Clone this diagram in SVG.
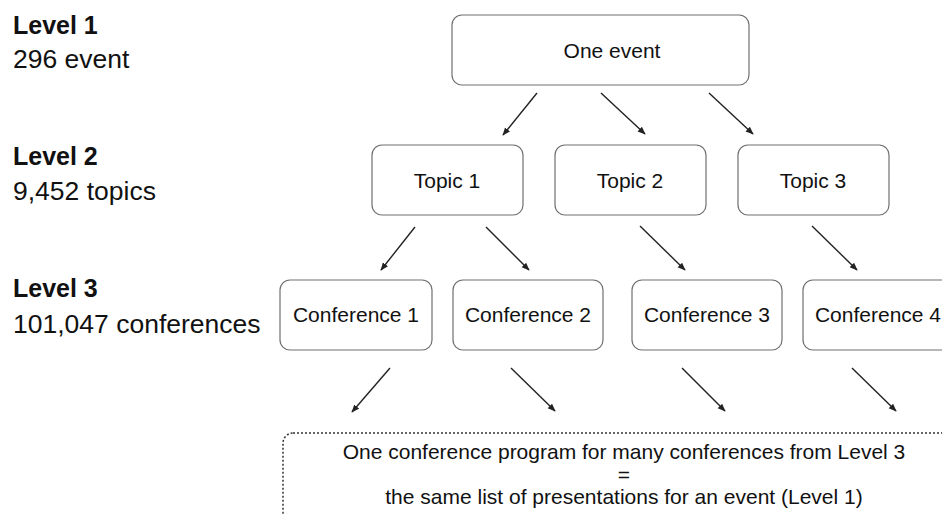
<svg xmlns="http://www.w3.org/2000/svg" width="942" height="514" viewBox="0 0 942 514">
<defs>
<style>
.lvl{font-family:"Liberation Sans",Arial,sans-serif;font-size:25px;font-weight:bold;fill:#111}
.cnt{font-family:"Liberation Sans",Arial,sans-serif;font-size:26.5px;fill:#111}
.box{fill:#fff;stroke:#707070;stroke-width:1.2}
.lab{font-family:"Liberation Sans",Arial,sans-serif;font-size:21px;fill:#111;text-anchor:middle}
.arr{stroke:#222;stroke-width:1.4;fill:none;marker-end:url(#ah)}
.dot{fill:none;stroke:#333;stroke-width:1.5;stroke-dasharray:2 2}
</style>
<marker id="ah" viewBox="0 0 10 10" refX="9" refY="5" markerWidth="8" markerHeight="8" markerUnits="userSpaceOnUse" orient="auto">
<path d="M0,1 L10,5 L0,9 Z" fill="#222"/>
</marker>
</defs>
<rect width="942" height="514" fill="#fff"/>
<g id="levels">
<text class="lvl" x="13" y="34">Level 1</text>
<text class="cnt" x="13" y="68">296 event</text>
<text class="lvl" x="13" y="165">Level 2</text>
<text class="cnt" x="13" y="200">9,452 topics</text>
<text class="lvl" x="13" y="297">Level 3</text>
<text class="cnt" x="13" y="333">101,047 conferences</text>
</g>
<g id="event">
<rect class="box" x="452" y="15" width="297" height="70" rx="10"/>
<text class="lab" x="612" y="58">One event</text>
</g>
<g id="topic1">
<rect class="box" x="372" y="145" width="151" height="70" rx="10"/>
<text class="lab" x="447" y="188">Topic 1</text>
</g>
<g id="topic2">
<rect class="box" x="555" y="145" width="151" height="70" rx="10"/>
<text class="lab" x="630" y="188">Topic 2</text>
</g>
<g id="topic3">
<rect class="box" x="738" y="145" width="151" height="70" rx="10"/>
<text class="lab" x="813" y="188">Topic 3</text>
</g>
<g id="conf1">
<rect class="box" x="280" y="280" width="152" height="70" rx="10"/>
<text class="lab" x="356" y="322">Conference 1</text>
</g>
<g id="conf2">
<rect class="box" x="453" y="280" width="150" height="70" rx="10"/>
<text class="lab" x="528" y="322">Conference 2</text>
</g>
<g id="conf3">
<rect class="box" x="632" y="280" width="150" height="70" rx="10"/>
<text class="lab" x="707" y="322">Conference 3</text>
</g>
<g id="conf4">
<rect class="box" x="803" y="280" width="150" height="70" rx="10"/>
<text class="lab" x="878" y="322">Conference 4</text>
</g>
<g id="program">
<rect class="dot" x="283" y="433" width="720" height="140" rx="10"/>
<text class="lab" x="624" y="459">One conference program for many conferences from Level 3</text>
<text class="lab" x="624" y="482">=</text>
<text class="lab" x="624" y="504">the same list of presentations for an event (Level 1)</text>
</g>
<g id="connectors">
<line class="arr" x1="537" y1="93" x2="503" y2="135"/>
<line class="arr" x1="601" y1="93" x2="645" y2="134"/>
<line class="arr" x1="709" y1="93" x2="753" y2="134"/>
<line class="arr" x1="415" y1="227" x2="381" y2="270"/>
<line class="arr" x1="486" y1="227" x2="529" y2="270"/>
<line class="arr" x1="640" y1="226" x2="685" y2="270"/>
<line class="arr" x1="812" y1="226" x2="857" y2="270"/>
<line class="arr" x1="390" y1="368" x2="352" y2="412"/>
<line class="arr" x1="511" y1="368" x2="555" y2="411"/>
<line class="arr" x1="682" y1="368" x2="725" y2="411"/>
<line class="arr" x1="852" y1="368" x2="896" y2="411"/>
</g>
</svg>
